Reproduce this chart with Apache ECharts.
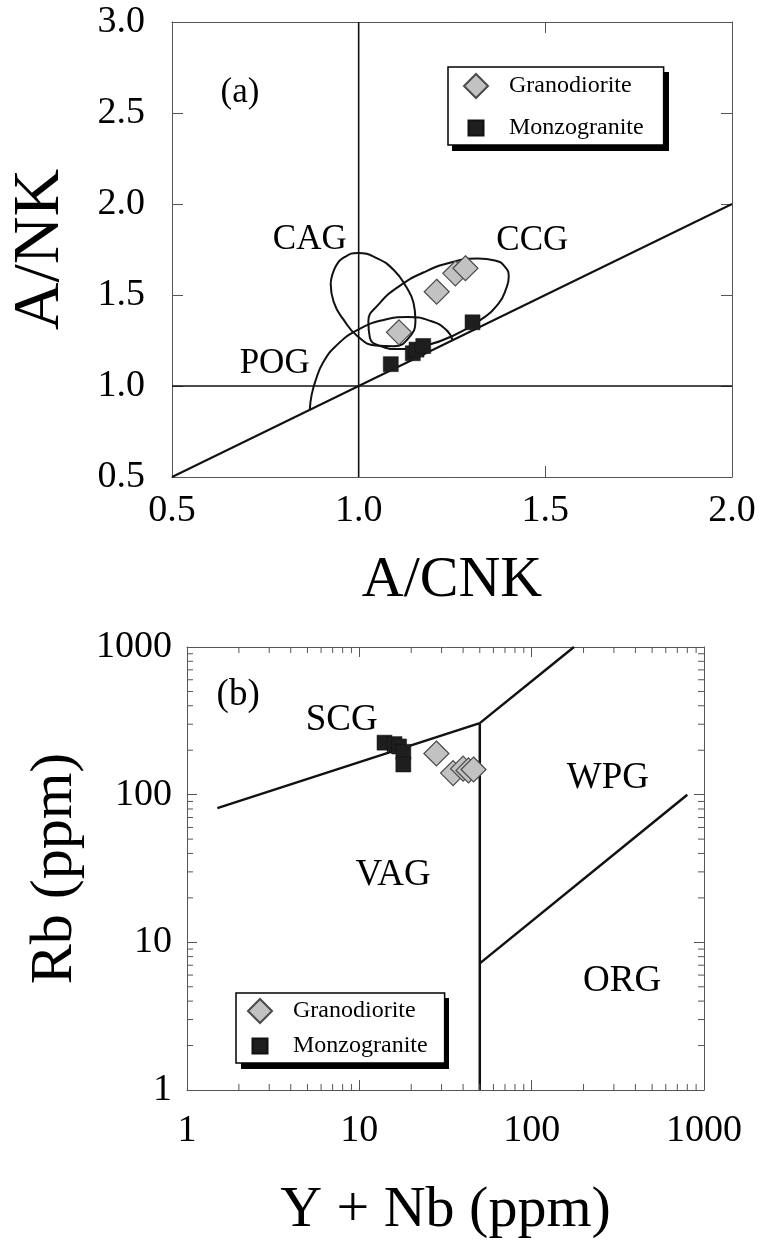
<!DOCTYPE html>
<html><head><meta charset="utf-8">
<script src="https://cdn.jsdelivr.net/npm/echarts@6/dist/echarts.min.js"></script>
<style>html,body{margin:0;padding:0;background:#fff}#c{width:760px;height:1241px}</style>
</head><body><div id="c"></div>
<script>
// ---------- tick labels ----------
const xTicksA = [0.5, 1.0, 1.5, 2.0];
const yTicksA = [0.5, 1.0, 1.5, 2.0, 2.5, 3.0];
const logTicks = [1, 10, 100, 1000];
const logMinorTicks = [2,3,4,5,6,7,8,9,20,30,40,50,60,70,80,90,200,300,400,500,600,700,800,900];

// ---------- series names ----------
const seriesNames = ['Granodiorite', 'Monzogranite'];

// ---------- panel (a): A/CNK vs A/NK ----------
const granodioriteA = [[1.108,1.295],[1.209,1.518],[1.259,1.619],[1.286,1.647]];
const monzograniteA = [[1.086,1.12],[1.145,1.18],[1.155,1.20],[1.173,1.22],[1.305,1.35]];
const diagonalA   = [[0.5,0.5],[2.0,2.0]];
const verticalA   = [[1.0,0.5],[1.0,3.0]];
const horizontalA = [[0.5,1.0],[2.0,1.0]];
const cagField = [[0.925,1.566],[0.939,1.659],[0.963,1.709],[0.997,1.731],[1.051,1.700],[1.094,1.637],
  [1.126,1.549],[1.147,1.456],[1.152,1.363],[1.134,1.264],[1.094,1.218],[1.045,1.222],[0.997,1.273],
  [0.960,1.363],[0.933,1.462],[0.925,1.566]];
const ccgField = [[1.253,1.276],[1.178,1.221],[1.109,1.203],[1.056,1.221],[1.030,1.265],[1.026,1.355],
  [1.054,1.450],[1.106,1.545],[1.175,1.625],[1.249,1.680],[1.319,1.700],[1.365,1.690],[1.392,1.655],
  [1.402,1.600],[1.396,1.540],[1.374,1.451],[1.322,1.357],[1.253,1.276]];
const pogField = [[0.869,0.869],[0.874,0.951],[0.885,1.033],[0.904,1.126],[0.939,1.220],[0.997,1.308],
  [1.067,1.363],[1.131,1.379],[1.193,1.357],[1.235,1.308],[1.251,1.253]];
const labelsA = [
  {name:'(a)', value:[0.682,2.610]},
  {name:'CAG', value:[0.869,1.802]},
  {name:'CCG', value:[1.465,1.797]},
  {name:'POG', value:[0.775,1.121]}
];

// ---------- panel (b): Y+Nb vs Rb ----------
const granodioriteB = [[28,190],[35,140],[40,150],[43,146],[46,148]];
const monzograniteB = [[14,225],[16,220],[17,212],[18,195],[18,160]];
const vagSynColB  = [[1.5,81],[50,305]];
const wpgSynColB  = [[50,305],[176,1000]];
const vagWpgB     = [[50,305],[50,1]];
const orgWpgB     = [[50,7.2],[800,100]];
const labelsB = [
  {name:'(b)', value:[1.98,472]},
  {name:'SCG', value:[7.9,320]},
  {name:'WPG', value:[277,129]},
  {name:'VAG', value:[15.7,28.6]},
  {name:'ORG', value:[335,5.47]}
];

const FONT = '"Liberation Serif", "Times New Roman", Times, serif';
const LINE = '#111';
const FRAME = '#555';
const DIAMOND_ICON = 'path://M0,0M40,24M12,0L24,12L12,24L0,12Z';
const SQUARE_ICON  = 'path://M0,0M40,24M4.5,4.5L19.5,4.5L19.5,19.5L4.5,19.5Z';

function lineS(data, xi, yi, w, smooth) {
  return {type:'line', xAxisIndex:xi, yAxisIndex:yi, data:data, showSymbol:false, symbol:'none',
    smooth: smooth || false, silent:true, lineStyle:{color:LINE, width:w}, z:2};
}
function labelS(data, xi, yi, fs) {
  return {type:'scatter', name:'labels', xAxisIndex:xi, yAxisIndex:yi, data:data, symbolSize:1, silent:true,
    itemStyle:{color:'transparent', opacity:1},
    label:{show:true, position:'inside', formatter:'{b}', fontFamily:FONT, fontSize:fs, color:'#000', opacity:1}, z:5};
}
function axisCommon(extra) {
  return Object.assign({
    axisLine:{show:true, onZero:false, lineStyle:{color:FRAME, width:1}},
    axisTick:{show:true, inside:true, length:11, lineStyle:{color:FRAME, width:1}},
    splitLine:{show:false}, minorTick:{show:false}
  }, extra);
}
const labelStyle = {fontFamily:FONT, color:'#000', fontSize:38};
const fmt1 = v => Number(v).toFixed(1);
const fmtLog = v => String(Math.round(v));

const gran = {color:'#c2c2c2', borderColor:'#4a4a4a', borderWidth:1.2, opacity:1};
const monz = {color:'#1e1e1e', borderColor:'#111', borderWidth:0.5, opacity:1};

const legendCommon = {orient:'vertical', selectedMode:false, z:10,
  itemWidth:40, itemHeight:24,
  backgroundColor:'#fff', borderColor:'#000', borderWidth:1.5,
  textStyle:{fontFamily:FONT, fontSize:24, color:'#000'},
  data:[{name:seriesNames[0], icon:DIAMOND_ICON},{name:seriesNames[1], icon:SQUARE_ICON}]};

const option = {
  animation:false,
  backgroundColor:'#fff',
  grid:[
    {left:171, top:22, width:561, height:455},
    {left:187, top:647, width:517, height:443}
  ],
  graphic:[
    {type:'rect', z:9, silent:true, left:452, top:72, shape:{width:217, height:79}, style:{fill:'#000'}},
    {type:'rect', z:9, silent:true, left:241, top:998, shape:{width:208, height:71}, style:{fill:'#000'}}
  ],
  xAxis:[
    axisCommon({type:'value', gridIndex:0, position:'bottom', min:xTicksA[0], max:xTicksA[xTicksA.length-1], interval:0.5,
      axisLabel:Object.assign({margin:15, formatter:fmt1}, labelStyle),
      name:'A/CNK', nameLocation:'middle', nameGap:75,
      nameTextStyle:{fontFamily:FONT, fontSize:58, color:'#000'}}),
    axisCommon({type:'value', gridIndex:0, position:'top', min:xTicksA[0], max:xTicksA[xTicksA.length-1], interval:0.5,
      axisLabel:{show:false}}),
    axisCommon({type:'log', logBase:10, gridIndex:1, position:'bottom', min:logTicks[0], max:logTicks[logTicks.length-1],
      axisTick:{show:true, inside:true, length:10, lineStyle:{color:FRAME, width:1}},
      axisLabel:Object.assign({margin:22, formatter:fmtLog}, labelStyle),
      name:'Y + Nb (ppm)', nameLocation:'middle', nameGap:92,
      nameTextStyle:{fontFamily:FONT, fontSize:58, color:'#000'}}),
    axisCommon({type:'log', logBase:10, gridIndex:1, position:'top', min:logTicks[0], max:logTicks[logTicks.length-1],
      axisTick:{show:true, inside:true, length:10, lineStyle:{color:FRAME, width:1}},
      axisLabel:{show:false}})
  ],
  yAxis:[
    axisCommon({type:'value', gridIndex:0, position:'left', min:yTicksA[0], max:yTicksA[yTicksA.length-1], interval:0.5,
      axisLabel:Object.assign({margin:27, formatter:fmt1}, labelStyle),
      name:'A/NK', nameLocation:'middle', nameGap:98,
      nameTextStyle:{fontFamily:FONT, fontSize:66, color:'#000'}}),
    axisCommon({type:'value', gridIndex:0, position:'right', min:yTicksA[0], max:yTicksA[yTicksA.length-1], interval:0.5,
      axisLabel:{show:false}}),
    axisCommon({type:'log', logBase:10, gridIndex:1, position:'left', min:logTicks[0], max:logTicks[logTicks.length-1],
      axisTick:{show:true, inside:true, length:10, lineStyle:{color:FRAME, width:1}},
      axisLabel:Object.assign({margin:15, formatter:fmtLog}, labelStyle),
      name:'Rb (ppm)', nameLocation:'middle', nameGap:96,
      nameTextStyle:{fontFamily:FONT, fontSize:60, color:'#000'}}),
    axisCommon({type:'log', logBase:10, gridIndex:1, position:'right', min:logTicks[0], max:logTicks[logTicks.length-1],
      axisTick:{show:true, inside:true, length:10, lineStyle:{color:FRAME, width:1}},
      axisLabel:{show:false}})
  ],
  legend:[
    Object.assign({left:448, top:67, itemGap:16, padding:[6,20,4,15]}, legendCommon),
    Object.assign({left:236, top:993, itemGap:9, padding:[5,17,4,11]}, legendCommon)
  ],
  series:[
    // panel (a)
    lineS(verticalA, 0, 0, 1.6),
    lineS(horizontalA, 0, 0, 1.6),
    lineS(diagonalA, 0, 0, 2),
    lineS(cagField, 0, 0, 2, 0.5),
    lineS(ccgField, 0, 0, 2, 0.5),
    lineS(pogField, 0, 0, 2, 0.5),
    {type:'scatter', name:seriesNames[1], xAxisIndex:0, yAxisIndex:0, data:monzograniteA,
     symbol:'rect', symbolSize:15, itemStyle:monz, z:4, silent:true},
    {type:'scatter', name:seriesNames[0], xAxisIndex:0, yAxisIndex:0, data:granodioriteA,
     symbol:'diamond', symbolSize:25, itemStyle:gran, z:4, silent:true},
    labelS(labelsA, 0, 0, 35),
    // panel (b)
    lineS(vagSynColB, 2, 2, 2.5),
    lineS(wpgSynColB, 2, 2, 2.5),
    lineS(vagWpgB, 2, 2, 2.5),
    lineS(orgWpgB, 2, 2, 2.5),
    {type:'scatter', name:seriesNames[1], xAxisIndex:2, yAxisIndex:2, data:monzograniteB,
     symbol:'rect', symbolSize:15, itemStyle:monz, z:4, silent:true},
    {type:'scatter', name:seriesNames[0], xAxisIndex:2, yAxisIndex:2, data:granodioriteB,
     symbol:'diamond', symbolSize:25, itemStyle:gran, z:4, silent:true},
    labelS(labelsB, 2, 2, 37),
    // minor log ticks on all four sides of panel (b)
    {type:'custom', xAxisIndex:2, yAxisIndex:2, silent:true, clip:false, z:3,
     data:logMinorTicks.map(v => [v, v]),
     renderItem:function(params, api){
       const v = api.value(0);
       const lo = logTicks[0], hi = logTicks[logTicks.length-1];
       const b = api.coord([v, lo]), t = api.coord([v, hi]);
       const l = api.coord([lo, v]), r = api.coord([hi, v]);
       const st = {stroke:FRAME, lineWidth:1};
       const L = 6;
       return {type:'group', children:[
         {type:'line', shape:{x1:b[0], y1:b[1], x2:b[0], y2:b[1]-L}, style:st},
         {type:'line', shape:{x1:t[0], y1:t[1], x2:t[0], y2:t[1]+L}, style:st},
         {type:'line', shape:{x1:l[0], y1:l[1], x2:l[0]+L, y2:l[1]}, style:st},
         {type:'line', shape:{x1:r[0], y1:r[1], x2:r[0]-L, y2:r[1]}, style:st}
       ]};
     }}
  ]
};
const chart = echarts.init(document.getElementById('c'), null, {renderer:'canvas'});
chart.setOption(option);
</script>
</body></html>
